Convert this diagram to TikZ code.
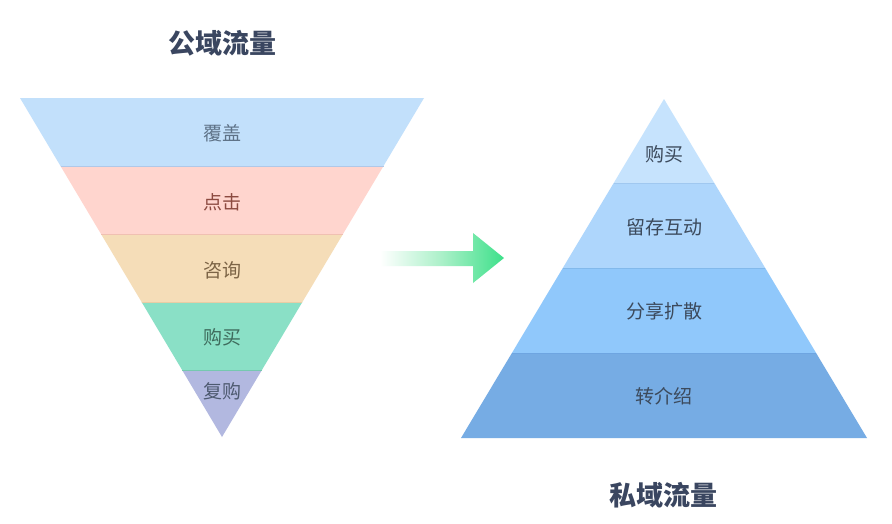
\documentclass[tikz,border=0pt]{standalone}
\usepackage{fontspec}
\setmainfont{Noto Sans CJK SC}
\begin{document}
\begin{tikzpicture}[x=1pt,y=-1pt,
  lbl/.style={font=\fontsize{19}{22}\selectfont, inner sep=0pt},
  ttl/.style={font=\fontsize{27}{30}\bfseries\selectfont, text=titlec, inner sep=0pt},
  sep/.style={line width=0.9pt}]
\definecolor{titlec}{HTML}{3A4660}
\definecolor{fa}{HTML}{C2E0FB}
\definecolor{fb}{HTML}{FFD5CE}
\definecolor{fc}{HTML}{F5DDB8}
\definecolor{fd}{HTML}{8AE0C6}
\definecolor{fe}{HTML}{B2B8E0}
\definecolor{pa}{HTML}{C6E3FD}
\definecolor{pb}{HTML}{AED6FC}
\definecolor{pc}{HTML}{90C8FB}
\definecolor{pd}{HTML}{76ACE4}
\definecolor{arrowg}{HTML}{3DE08A}
\definecolor{pyt}{HTML}{3C4A5C}
\useasboundingbox (0,0) rectangle (892,523);
\fill[white] (0,0) rectangle (892,523);
% funnel
\fill[fa] (20,98) -- (424,98) -- (383.5,166) -- (60.5,166) -- cycle;
\fill[fb] (60.5,166) -- (383.5,166) -- (343,234) -- (101,234) -- cycle;
\fill[fc] (101,234) -- (343,234) -- (302.4,302) -- (141.6,302) -- cycle;
\fill[fd] (141.6,302) -- (302.4,302) -- (261.9,370) -- (182.1,370) -- cycle;
\fill[fe] (182.1,370) -- (261.9,370) -- (222,437) -- cycle;
\draw[sep, draw={rgb,255:red,176;green,200;blue,232}] (60.5,166) -- (383.5,166);
\draw[sep, draw={rgb,255:red,240;green,192;blue,178}] (101,234) -- (343,234);
\draw[sep, draw={rgb,255:red,232;green,205;blue,165}] (141.6,302) -- (302.4,302);
\draw[sep, draw={rgb,255:red,118;green,200;blue,176}] (182.1,370) -- (261.9,370);
\node[lbl, text={rgb,255:red,94;green,114;blue,135}] (f1) at (222,133) {覆盖};
\node[lbl, text={rgb,255:red,140;green,74;blue,64}] (f2) at (222,202) {点击};
\node[lbl, text={rgb,255:red,124;green,100;blue,70}] (f3) at (222,270) {咨询};
\node[lbl, text={rgb,255:red,62;green,107;blue,92}] (f4) at (222,337) {购买};
\node[lbl, text={rgb,255:red,78;green,90;blue,112}] (f5) at (222,391) {复购};
\node[ttl] (t1) at (222,43) {公域流量};
% pyramid
\fill[pa] (664,99) -- (714.3,183) -- (613.7,183) -- cycle;
\fill[pb] (613.7,183) -- (714.3,183) -- (765.2,268) -- (562.8,268) -- cycle;
\fill[pc] (562.8,268) -- (765.2,268) -- (816.1,353) -- (511.9,353) -- cycle;
\fill[pd] (511.9,353) -- (816.1,353) -- (867,438) -- (461,438) -- cycle;
\draw[sep, draw={rgb,255:red,160;green,200;blue,240}] (613.7,183) -- (714.3,183);
\draw[sep, draw={rgb,255:red,130;green,185;blue,235}] (562.8,268) -- (765.2,268);
\draw[sep, draw={rgb,255:red,110;green,165;blue,225}] (511.9,353) -- (816.1,353);
\node[lbl, text=pyt] (p1) at (664,154) {购买};
\node[lbl, text=pyt] (p2) at (664,227) {留存互动};
\node[lbl, text=pyt] (p3) at (664,311) {分享扩散};
\node[lbl, text=pyt] (p4) at (664,396) {转介绍};
\node[ttl] (t2) at (663,495) {私域流量};
% arrow
\shade[left color=white, right color=arrowg, middle color={rgb,255:red,170;green,240;blue,200}]
  (380,251) -- (473,251) -- (473,233) -- (504,258) -- (473,283) -- (473,266) -- (380,266) -- cycle;
\end{tikzpicture}
\end{document}
